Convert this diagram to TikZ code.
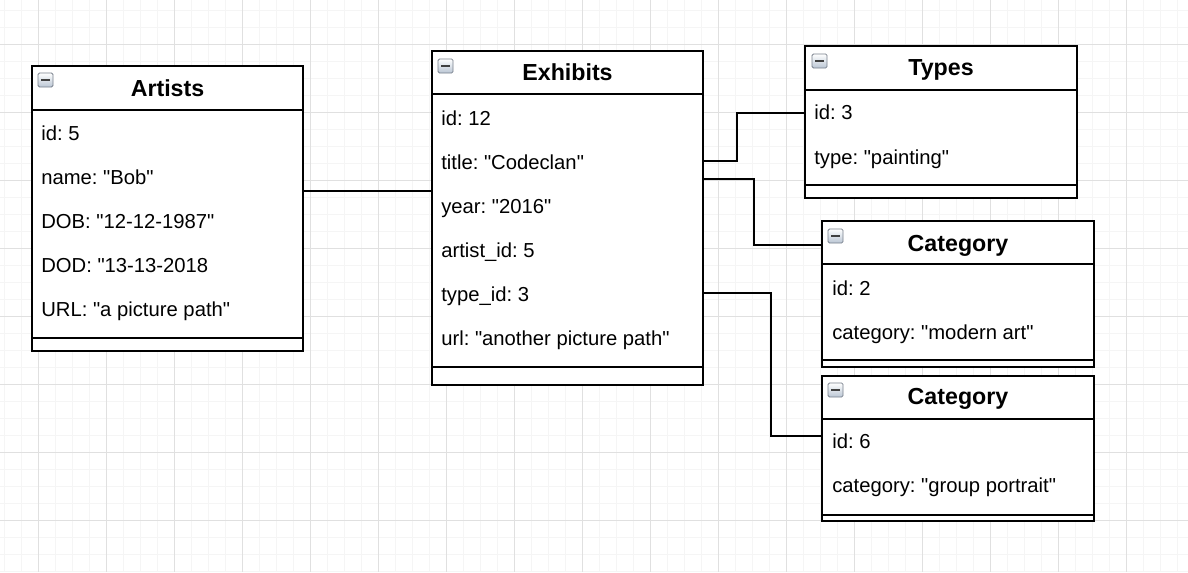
\documentclass[tikz,border=0pt]{standalone}
\usepackage{fontspec}
\setmainfont{Liberation Sans}[Ligatures=TeXOff]
\frenchspacing

\begin{document}
\begin{tikzpicture}[x=0.025cm, y=-0.025cm,
  tbl/.style={draw=black, fill=white, line width=1.4pt, inner sep=0pt, outer sep=0pt, anchor=north west},
  rule/.style={draw=black, line width=1.4pt},
  head/.style={anchor=base, inner sep=0pt, font=\fontsize{16.5}{19}\selectfont\bfseries},
  field/.style={anchor=base west, inner sep=0pt, font=\fontsize{14.4}{17}\selectfont},
  link/.style={draw=black, line width=1.4pt},
  minus/.style={draw=icongray, line width=0.6pt, top color=white, bottom color=iconblue, rounded corners=1pt},
  minusbar/.style={line width=1.6pt, black!75}]

% Colors
\definecolor{gridminor}{RGB}{245,245,245} % light grid
\definecolor{gridmajor}{RGB}{224,224,224} % major grid
\definecolor{icongray}{RGB}{120,128,140}
\definecolor{iconblue}{RGB}{186,198,212}

\useasboundingbox (0,0) rectangle (1188,572);
\fill[white] (0,0) rectangle (1188,572);

% === Grid ===
\foreach \x in {4,21,...,1188} \draw[gridminor, line width=0.7pt] (\x,0) -- (\x,572);
\foreach \y in {10,27,...,572} \draw[gridminor, line width=0.7pt] (0,\y) -- (1188,\y);
\foreach \x in {38,106,...,1188} \draw[gridmajor, line width=0.7pt] (\x,0) -- (\x,572);
\foreach \y in {44,112,...,572} \draw[gridmajor, line width=0.7pt] (0,\y) -- (1188,\y);

% === Artists ===
\node[tbl, minimum width=6.775cm, minimum height=7.125cm] (artists) at (32,66) {};
\draw[rule] (artists.west |- 0,110) -- (artists.east |- 0,110);
\draw[rule] (artists.west |- 0,338) -- (artists.east |- 0,338);
\draw[minus] ([shift={(6,7)}]artists.north west) rectangle ++(15,14);
\draw[minusbar] ([shift={(9,14)}]artists.north west) -- ++(9,0);
\node[head] (artists-title) at (167.5,96.7) {Artists};
\node[field] (artists-id) at (41,140.5) {id: 5};
\node[field] (artists-name) at (41,184.5) {name: "Bob"};
\node[field] (artists-dob) at (41,228.5) {DOB: "12-12-1987"};
\node[field] (artists-dod) at (41,272.5) {DOD: "13-13-2018};
\node[field] (artists-url) at (41,316.5) {URL: "a picture path"};

% === Exhibits ===
\node[tbl, minimum width=6.775cm, minimum height=8.35cm] (exhibits) at (432,51) {};
\draw[rule] (exhibits.west |- 0,94) -- (exhibits.east |- 0,94);
\draw[rule] (exhibits.west |- 0,367) -- (exhibits.east |- 0,367);
\draw[minus] ([shift={(6,8)}]exhibits.north west) rectangle ++(15,14);
\draw[minusbar] ([shift={(9,15)}]exhibits.north west) -- ++(9,0);
\node[head] (exhibits-title) at (567.5,80.7) {Exhibits};
\node[field] (exhibits-id) at (441,125) {id: 12};
\node[field] (exhibits-name) at (441,169) {title: "Codeclan"};
\node[field] (exhibits-year) at (441,213) {year: "2016"};
\node[field] (exhibits-artist) at (441,257) {artist\_id: 5};
\node[field] (exhibits-type) at (441,301) {type\_id: 3};
\node[field] (exhibits-url) at (441,345) {url: "another picture path"};

% === Types ===
\node[tbl, minimum width=6.8cm, minimum height=3.8cm] (types) at (805,46) {};
\draw[rule] (types.west |- 0,90) -- (types.east |- 0,90);
\draw[rule] (types.west |- 0,185) -- (types.east |- 0,185);
\draw[minus] ([shift={(7,8)}]types.north west) rectangle ++(15,14);
\draw[minusbar] ([shift={(10,15)}]types.north west) -- ++(9,0);
\node[head] (types-title) at (941,75) {Types};
\node[field] (types-id) at (814,119.5) {id: 3};
\node[field] (types-type) at (814,164) {type: "painting"};

% === Category 1 ===
\node[tbl, minimum width=6.8cm, minimum height=3.65cm] (category1) at (822,221) {};
\draw[rule] (category1.west |- 0,264) -- (category1.east |- 0,264);
\draw[rule] (category1.west |- 0,360) -- (category1.east |- 0,360);
\draw[minus] ([shift={(6,8)}]category1.north west) rectangle ++(15,14);
\draw[minusbar] ([shift={(9,15)}]category1.north west) -- ++(9,0);
\node[head] (category1-title) at (958,251) {Category};
\node[field] (category1-id) at (832,295) {id: 2};
\node[field] (category1-name) at (832,339) {category: "modern art"};

% === Category 2 ===
\node[tbl, minimum width=6.8cm, minimum height=3.625cm] (category2) at (822,376) {};
\draw[rule] (category2.west |- 0,419) -- (category2.east |- 0,419);
\draw[rule] (category2.west |- 0,515) -- (category2.east |- 0,515);
\draw[minus] ([shift={(6,7)}]category2.north west) rectangle ++(15,14);
\draw[minusbar] ([shift={(9,14)}]category2.north west) -- ++(9,0);
\node[head] (category2-title) at (958,404) {Category};
\node[field] (category2-id) at (832,448) {id: 6};
\node[field] (category2-name) at (832,492.5) {category: "group portrait"};

% === Links ===
\draw[link] (artists.east |- 0,191) -- (exhibits.west |- 0,191);
\draw[link] (exhibits.east |- 0,161) -- ++(34,0) |- (types.west |- 0,113);
\draw[link] (exhibits.east |- 0,179) -- ++(51,0) |- (category1.west |- 0,245);
\draw[link] (exhibits.east |- 0,293) -- ++(68,0) |- (category2.west |- 0,436);

\end{tikzpicture}
\end{document}
